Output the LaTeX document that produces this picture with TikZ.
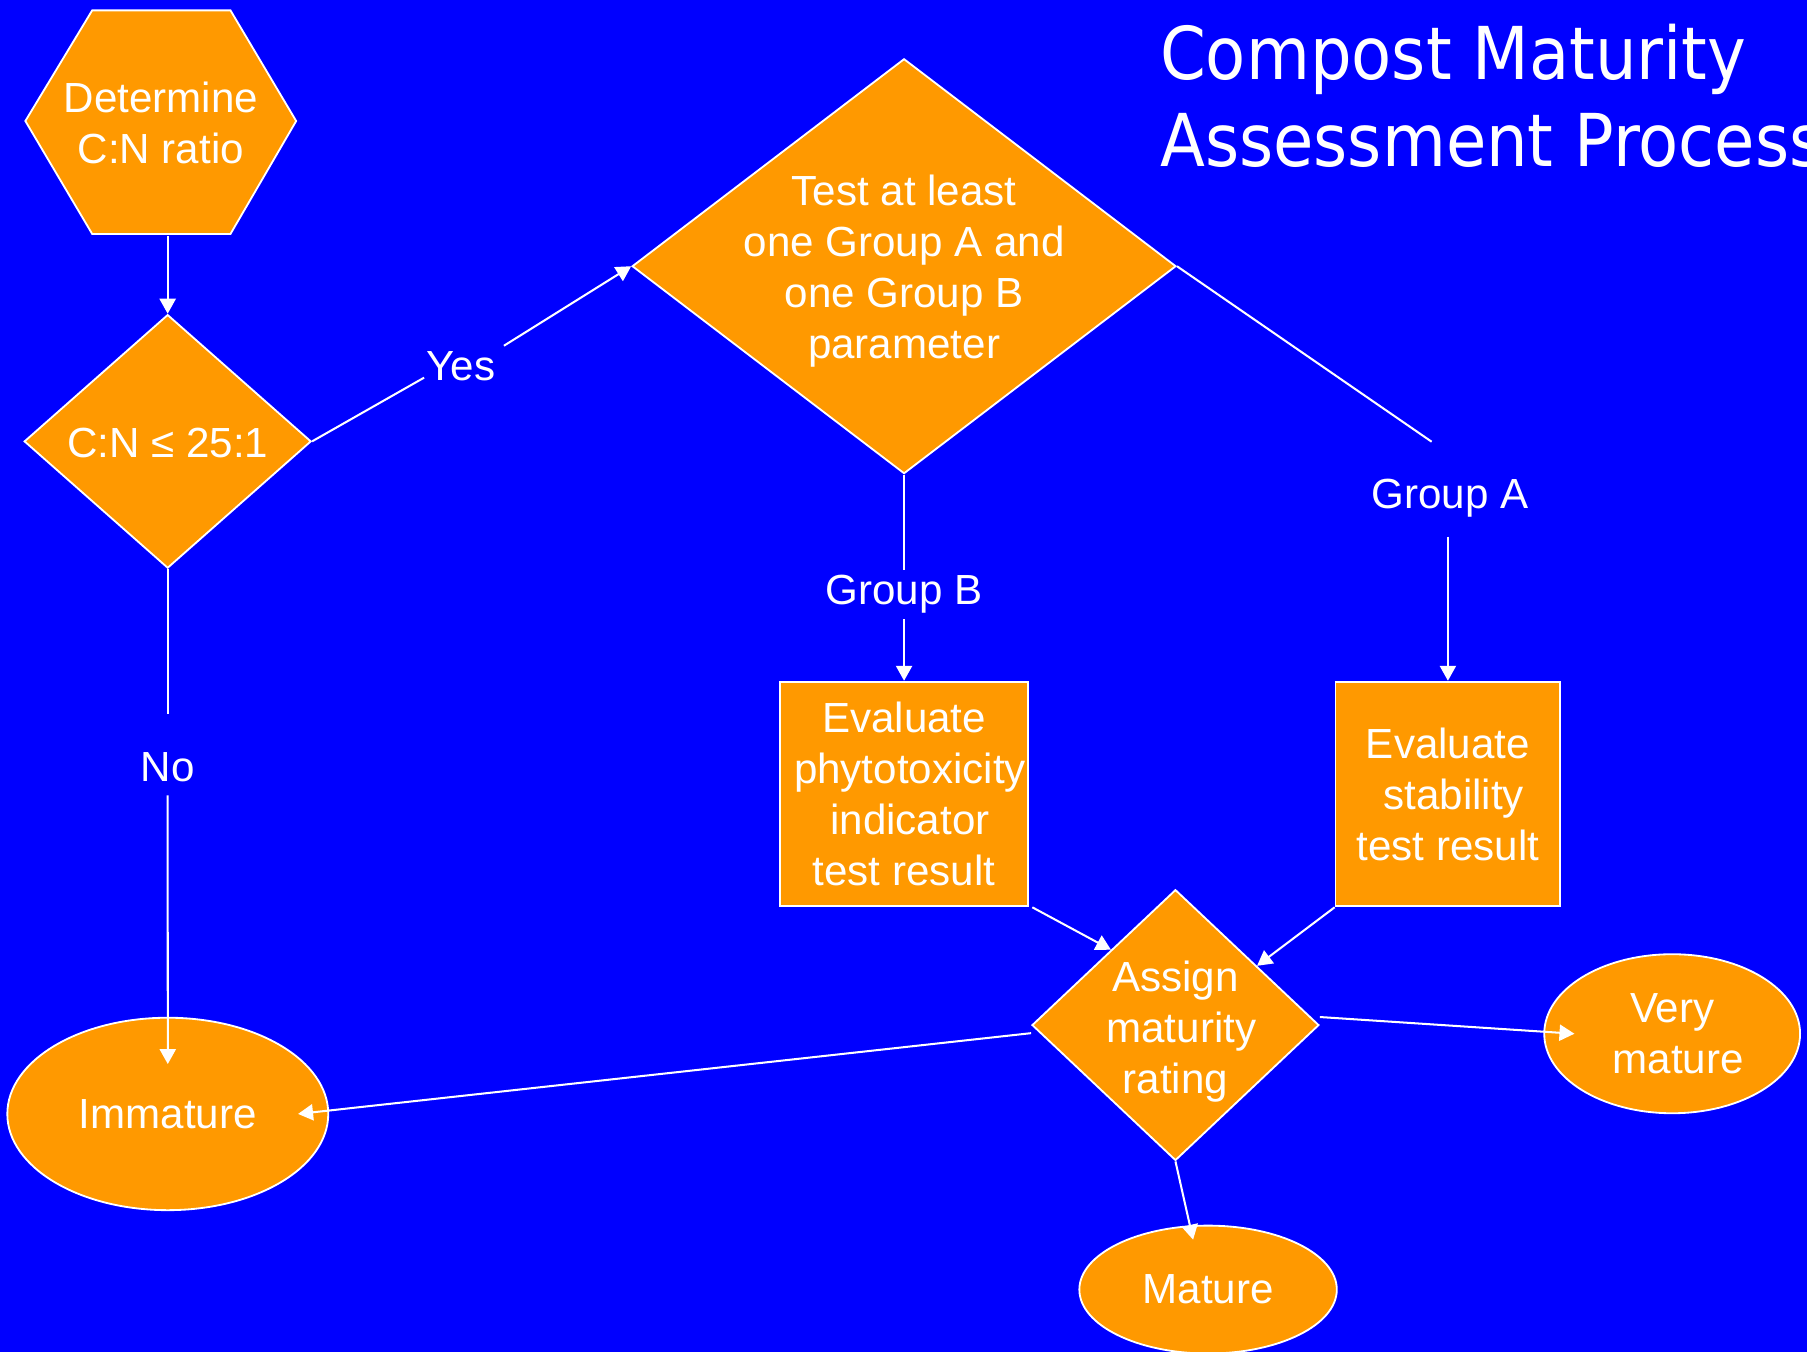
\documentclass[tikz,border=0pt]{standalone}
\usepackage{fontspec}
\setmainfont{Liberation Sans}
\newfontfamily\titlefont[FakeStretch=0.9]{DejaVu Sans}
\usetikzlibrary{shapes.geometric,arrows.meta,calc}
\definecolor{bg}{RGB}{0,0,255}
\definecolor{org}{RGB}{255,153,0}
\begin{document}
\begin{tikzpicture}[x=0.1mm,y=-0.1mm,
  every node/.style={font=\fontsize{10.4pt}{12.6pt}\selectfont, text=white},
  box/.style={draw=white, line width=0.45pt, fill=org},
  dia/.style={box, diamond, inner sep=0pt},
  ell/.style={box, ellipse, inner sep=0pt, align=center},
  rect/.style={box, rectangle, inner sep=0pt, align=center},
  dtext/.style={align=center, inner sep=0pt, text=white},
  lbl/.style={inner sep=0pt},
  conn/.style={draw=white, line width=0.5pt},
  arr/.style={conn, -{Triangle[length=1.3mm,width=1.4mm]}}
]
\useasboundingbox (0,0) rectangle (1568,1173);
\clip (0,0) rectangle (1568,1173);
\fill[bg] (0,0) rectangle (1568,1173);

% title
\node[anchor=north west, align=left, inner sep=0pt,
      font=\titlefont\fontsize{18pt}{21.6pt}\selectfont] (title) at (1006,20)
  {Compost Maturity\\Assessment Process};

% hexagon
\path[box] (22,105) -- (80,9) -- (200,9) -- (257,105) -- (200,203) -- (80,203) -- cycle;
\node[minimum width=23.5mm, minimum height=19.4mm, align=center, inner sep=0pt] (hex) at (139.5,107) {Determine\\C:N ratio};

% diamonds
\node[dia, minimum width=24.9mm, minimum height=22mm,
      label={[dtext, yshift=-0.1mm]center:{C:N ≤ 25:1}}] (d1) at (145.5,383) {};
\node[dia, minimum width=47.2mm, minimum height=36mm,
      label={[dtext, yshift=-0.45mm]center:{Test at least\\one Group A and\\one Group B\\parameter}}] (d2) at (784.5,231) {};
\node[dia, minimum width=24.9mm, minimum height=23.5mm,
      label={[dtext, yshift=-0.6mm]center:{Assign\\\hspace*{.28em}maturity\\rating}}] (d3) at (1020,889.5) {};

% rectangles
\node[rect, minimum width=21.5mm, minimum height=19.5mm] (rB) at (784.5,689)
  {Evaluate\\\hspace*{.28em}phytotoxicity\\\hspace*{.28em}indicator\\test result};
\node[rect, minimum width=19.5mm, minimum height=19.5mm] (rA) at (1256.4,689)
  {Evaluate\\\hspace*{.28em}stability\\test result};

% ellipses
\node[ell, minimum width=27.85mm, minimum height=16.7mm] (imm) at (145.6,966.6) {Immature};
\node[ell, minimum width=22.2mm, minimum height=13.8mm] (vm) at (1451,897) {Very\\\hspace*{.28em}mature};
\node[ell, minimum width=22.34mm, minimum height=11.1mm] (mat) at (1048.3,1119) {Mature};

% connectors
\draw[arr] (d1.north |- hex.south) -- (d1.north);

\coordinate (y1) at (368,327.7);
\coordinate (y2) at (437.3,300);
\draw[conn] (d1.east) -- (y1);
\draw[arr] (y2) -- (d2.west);
\node[lbl] (yes) at (400,318) {Yes};

\coordinate (n1) at ($(d1.south)+(0,126)$);
\coordinate (n2) at ($(d1.south)+(0,196.3)$);
\draw[conn] (d1.south) -- (n1);
\draw[arr] (n2) -- ($(imm.north)+(0,41)$);
\node[lbl] (no) at (145.5,665.5) {No};

\coordinate (b1) at ($(d2.south)+(0,83)$);
\coordinate (b2) at ($(d2.south)+(0,125.6)$);
\draw[conn] (d2.south) -- (b1);
\draw[arr] (b2) -- (rB.north);
\node[lbl] (gb) at (784.6,516) {Group B};

\coordinate (a1) at (1242.3,383.3);
\coordinate (a2) at ($(rA.north)+(0,-125)$);
\draw[conn] (d2.east) -- (a1);
\draw[arr] (a2) -- (rA.north);
\node[lbl] (ga) at (1258.3,432.4) {Group A};

\draw[arr] ($(rB.south east)+(3,0)$) -- ($(d3.north)!0.447!(d3.west)$);
\draw[arr] (rA.south west) -- ($(d3.north)!0.565!(d3.east)$);
\draw[arr] ($(d3.west)+(0,7)$) -- ($(imm.east)+(-27,0)$);
\draw[arr] ($(d3.east)+(0,-7)$) -- ($(vm.west)+(27,0)$);
\draw[arr] (d3.south) -- ($(mat.north)+(-13,13)$);
\end{tikzpicture}
\end{document}
